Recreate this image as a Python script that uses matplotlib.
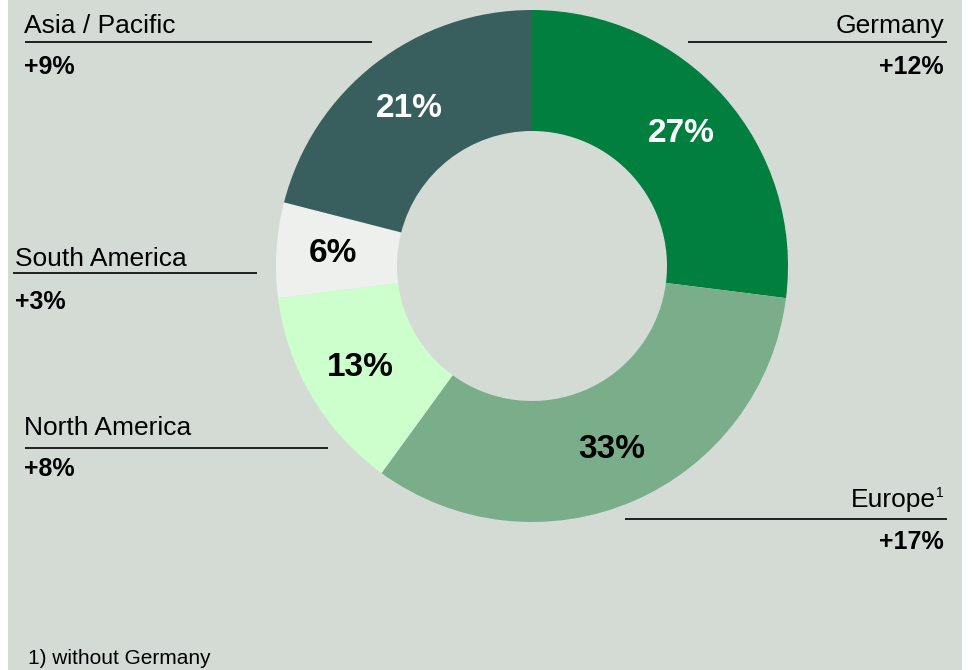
import matplotlib
matplotlib.use("Agg")
import matplotlib.pyplot as plt
from matplotlib.patches import Rectangle
import numpy as np

plt.rcParams['font.family'] = ['Liberation Sans', 'DejaVu Sans']

regions = ["Germany", "Europe", "North America", "South America", "Asia / Pacific"]
shares = [27, 33, 13, 6, 21]
growth = ["+12%", "+17%", "+8%", "+3%", "+9%"]
colors = ["#007f3f", "#7aae8a", "#ccffcc", "#eef0ee", "#385f5e"]
pct_colors = ["white", "black", "black", "black", "white"]
footnote = "1) without Germany"

W, H = 972, 670
fig = plt.figure(figsize=(W / 100, H / 100), dpi=100, facecolor="white")
ax = fig.add_axes([0, 0, 1, 1])

bg = "#d4dbd5"
ax.add_patch(Rectangle((8, 0), 954, H, facecolor=bg, edgecolor="none", zorder=0))

def Y(y):
    return H - y

cx, cy, R, r_in = 532, Y(266), 256, 135
wedges, texts, autotexts = ax.pie(
    shares, colors=colors, startangle=90, counterclock=False,
    center=(cx, cy), radius=R, frame=True,
    wedgeprops=dict(width=R - r_in, edgecolor="none"),
    autopct=lambda p: f"{p:.0f}%", pctdistance=0.78,
    textprops=dict(fontsize=24, fontweight="bold"))
ax.set_xlim(0, W)
ax.set_ylim(0, H)
ax.axis("off")
for t, c in zip(autotexts, pct_colors):
    t.set_color(c)

lw = 1.2
NAME_FS = 19
GROWTH_FS = 18

def region_label(name, g, x_text, y_base, x_line0, x_line1, y_line, y_g, ha):
    ax.text(x_text, Y(y_base), name, fontsize=NAME_FS, ha=ha, va="baseline", color="black")
    ax.plot([x_line0, x_line1], [Y(y_line), Y(y_line)], color="black", lw=lw, solid_capstyle="butt")
    ax.text(x_text, Y(y_g), g, fontsize=GROWTH_FS, fontweight="bold", ha=ha, va="baseline", color="black")

# Germany (top right)
region_label(regions[0], growth[0], 944, 33, 688, 947, 42, 74, "right")
# Asia / Pacific (top left)
region_label(regions[4], growth[4], 24, 33, 25, 372, 42, 74, "left")
# South America
region_label(regions[3], growth[3], 15, 266, 13, 257, 273, 309, "left")
# North America
region_label(regions[2], growth[2], 24, 435, 25, 328, 448, 476, "left")
# Europe (bottom right) with superscript
ax.text(936, Y(507), regions[1], fontsize=NAME_FS, ha="right", va="baseline", color="black")
ax.text(944, Y(497), "1", fontsize=10, ha="right", va="baseline", color="black")
ax.plot([625, 947], [Y(519), Y(519)], color="black", lw=lw, solid_capstyle="butt")
ax.text(944, Y(549), growth[1], fontsize=GROWTH_FS, fontweight="bold", ha="right", va="baseline", color="black")

ax.text(28, Y(664), footnote, fontsize=15, ha="left", va="baseline", color="black")

fig.savefig("out.png", dpi=100, facecolor="white")
